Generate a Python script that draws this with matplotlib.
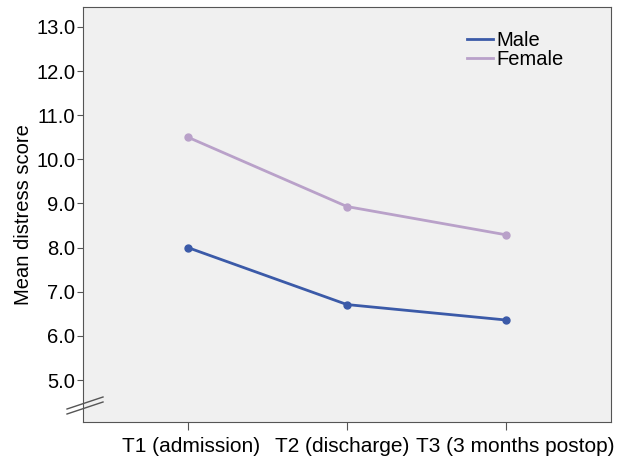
import matplotlib
matplotlib.use('Agg')
import matplotlib.pyplot as plt
import matplotlib.lines as mlines
import matplotlib.transforms as mtransforms

plt.rcParams['font.family'] = ['Liberation Sans', 'DejaVu Sans']

# data
timepoints = ['T1 (admission)', 'T2 (discharge)', 'T3 (3 months postop)']
male = [8.0, 6.71, 6.36]
female = [10.5, 8.93, 8.29]
yticks = [5.0, 6.0, 7.0, 8.0, 9.0, 10.0, 11.0, 12.0, 13.0]

male_color = '#3b5aa8'
female_color = '#b9a1c9'
fs = 14.5

fig = plt.figure(figsize=(6.28, 4.61), dpi=100)
ax = fig.add_axes([83 / 628, 1 - 422 / 461, 528 / 628, 415 / 461])
ax.set_facecolor('#f0f0f0')

x = list(range(len(timepoints)))
ax.plot(x, male, '-o', color=male_color, lw=2, ms=5, label='Male')
ax.plot(x, female, '-o', color=female_color, lw=2, ms=5, label='Female')

ax.set_xlim(-0.66, 2.66)
ax.set_ylim(4.05, 13.45)
ax.set_xticks(x)
ax.set_xticklabels(timepoints, fontsize=15)
ax.set_yticks(yticks)
ax.set_yticklabels(['%.1f' % v for v in yticks], fontsize=fs)
ax.set_ylabel('Mean distress score', fontsize=fs, labelpad=2)
ax.tick_params(axis='y', length=4.5, color='#555555', pad=1)
ax.tick_params(axis='x', length=6, color='#555555', pad=5)
for s in ax.spines.values():
  s.set_color('#555555')

# nudge x labels apart like the original (pixels)
shifts = [3, -5, 9]
for lab, dx in zip(ax.get_xticklabels(), shifts):
  lab.set_transform(lab.get_transform() +
                    mtransforms.ScaledTranslation(dx / 100, 0, fig.dpi_scale_trans))

# axis break marks
for dy in (0, 5):
  fig.add_artist(mlines.Line2D([67 / 628, 103 / 628],
                               [1 - (414 - dy) / 461, 1 - (402 - dy) / 461],
                               color='#555555', lw=1))

ax.legend(loc='upper left', bbox_to_anchor=((467 - 83) / 528, 1 - 24 / 415),
          frameon=False, fontsize=fs, handlelength=1.3, handletextpad=0.15,
          labelspacing=0.0, borderpad=0, borderaxespad=0, markerscale=0)

fig.savefig('out.png', dpi=100)
